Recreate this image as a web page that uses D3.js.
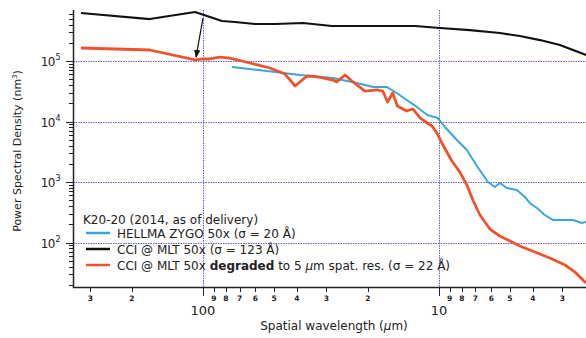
<!DOCTYPE html>
<html><head><meta charset="utf-8">
<script src="https://cdn.jsdelivr.net/npm/d3@7"></script>
<style>
body{margin:0;background:#fff}
svg{display:block}
text{font-family:"DejaVu Sans",Verdana,sans-serif;fill:#222}
</style>
</head><body>
<svg id="chart" width="586" height="338"></svg>
<script>
// ---- data (spatial wavelength in µm, PSD in nm^3) ----
const blackWl  = [329, 168, 108, 83.1, 73.2, 60.2, 49.5, 37.7, 28.4, 16.1, 12.6, 9.9, 7.39, 5.52, 4.54, 3.73, 3.07, 2.38];
const blackPsd = [621000, 494000, 645000, 458000, 441000, 409000, 409000, 425000, 379000, 379000, 379000, 351000, 325000, 290000, 259000, 222000, 184000, 126000];

const blueWl  = [75.4, 53.6, 38.8, 28.1, 22.3, 19.0, 16.6, 15.1, 13.7, 12.4, 11.2, 10.1, 9.43, 8.39, 7.61, 6.90, 6.20, 5.79, 5.52, 5.15, 4.67, 4.32, 4.12, 3.84, 3.56, 3.29, 2.98, 2.70, 2.48, 2.38];
const bluePsd = [79600, 68400, 58700, 52400, 43300, 37200, 37200, 29600, 22700, 17400, 12800, 11400, 8110, 4950, 3380, 1840, 1000, 826, 962, 796, 738, 565, 450, 372, 285, 236, 236, 236, 210, 218];

const redWl  = [329, 168, 108, 100, 93.4, 84.7, 76.9, 63.2, 52.0, 44.9, 40.7, 36.2, 32.6, 28.1, 27.1, 25.0, 23.1, 20.6, 18.3, 17.3, 16.5, 15.7, 15.0, 13.7, 12.9, 12.0, 11.2, 10.7, 10.2, 9.71, 9.25, 8.81, 8.15, 7.61, 7.18, 6.70, 6.08, 5.52, 5.00, 4.54, 3.92, 3.39, 2.92, 2.65, 2.38];
const redPsd = [164000, 152000, 104000, 108000, 108000, 116000, 112000, 92700, 76600, 60900, 38600, 56500, 54500, 48500, 45000, 58700, 45000, 31900, 33200, 31900, 21000, 29600, 18000, 14900, 16100, 11400, 9450, 8430, 6460, 4410, 3130, 2220, 1460, 891, 504, 285, 167, 128, 106, 87.5, 69.7, 55.5, 42.5, 32.5, 21.4];

const legendTitle = "K20-20 (2014, as of delivery)";
const seriesNames = ["HELLMA ZYGO 50x (σ = 20 Å)", "CCI @ MLT 50x (σ = 123 Å)", "CCI @ MLT 50x degraded to 5 μm spat. res. (σ = 22 Å)"];
const seriesColors = ["#3aa6df", "#111111", "#f0522b"];

const yMajorTicks = [1e2, 1e3, 1e4, 1e5];
const yExponents  = ["2", "3", "4", "5"];
const xMajorTicks = [100, 10];
const xMajorLabels = ["100", "10"];
const xMinorTicks = [300, 200, 90, 80, 70, 60, 50, 40, 30, 20, 9, 8, 7, 6, 5, 4, 3];
const xMinorLabels = ["3", "2", "9", "8", "7", "6", "5", "4", "3", "2", "9", "8", "7", "6", "5", "4", "3"];
const arrowFrom = [100, 513000];
const arrowTo   = [107, 116000];

// ---- layout ----
const svg = d3.select("#chart");
const L = 73, R = 586, T = 10, B = 287;
const x = d3.scaleLog().domain([355.5, 2.38]).range([L, R]);
const y = d3.scaleLog().domain([Math.pow(10, 1.2645), Math.pow(10, 5.843)]).range([B, T]);

// grid
const grid = svg.append("g").style("stroke", "#5f5ff0").style("stroke-width", "1px").style("stroke-dasharray", "1.5,1");
yMajorTicks.forEach(v => grid.append("line").attr("x1", L).attr("x2", R).attr("y1", Math.round(y(v)) + 0.5).attr("y2", Math.round(y(v)) + 0.5));
xMajorTicks.forEach(v => grid.append("line").attr("x1", Math.round(x(v)) + 0.5).attr("x2", Math.round(x(v)) + 0.5).attr("y1", T).attr("y2", B));

// y minor ticks
const yMinor = [];
for (let e = 1; e <= 5; e++) for (let m = 1; m <= 9; m++) { const v = m * Math.pow(10, e); if (v >= y.domain()[0] && v <= y.domain()[1]) yMinor.push(v); }
const yAx = svg.append("g").attr("stroke", "#222").attr("stroke-width", 1);
yMinor.forEach(v => {
  const major = yMajorTicks.includes(v);
  yAx.append("line").attr("x1", L - (major ? 7 : 4)).attr("x2", L).attr("y1", Math.round(y(v)) + 0.5).attr("y2", Math.round(y(v)) + 0.5);
});
yAx.append("line").attr("x1", L + 0.5).attr("x2", L + 0.5).attr("y1", T).attr("y2", B + 1).attr("stroke-width", 1.5);

// y labels
yMajorTicks.forEach((v, i) => {
  svg.append("text").attr("x", 55).attr("y", y(v) + 5).attr("text-anchor", "end").attr("font-size", 12).attr("letter-spacing", "-0.5").text("10");
  svg.append("text").attr("x", 55.5).attr("y", y(v) - 1).attr("font-size", 8).text(yExponents[i]);
});

// x axis
const xAx = svg.append("g").attr("stroke", "#222").attr("stroke-width", 1);
xAx.append("line").attr("x1", L).attr("x2", R).attr("y1", B + 0.5).attr("y2", B + 0.5).attr("stroke-width", 1.5);
xMajorTicks.forEach(v => xAx.append("line").attr("x1", Math.round(x(v)) + 0.5).attr("x2", Math.round(x(v)) + 0.5).attr("y1", B).attr("y2", B + 9));
xMinorTicks.forEach(v => xAx.append("line").attr("x1", Math.round(x(v)) + 0.5).attr("x2", Math.round(x(v)) + 0.5).attr("y1", B).attr("y2", B + 5));
xMinorTicks.forEach((v, i) => svg.append("text").attr("x", x(v)).attr("y", 301).attr("text-anchor", "middle").attr("font-size", 7.5).attr("font-weight", "bold").text(xMinorLabels[i]));
xMajorTicks.forEach((v, i) => svg.append("text").attr("x", x(v)).attr("y", 315).attr("text-anchor", "middle").attr("font-size", 13).text(xMajorLabels[i]));

// axis titles
svg.append("text").attr("x", 334).attr("y", 330).attr("text-anchor", "middle").attr("font-size", 12).html("Spatial wavelength (<tspan font-style='italic'>μ</tspan>m)");
svg.append("text").attr("transform", "translate(21,151) rotate(-90)").attr("text-anchor", "middle").attr("font-size", 11)
  .html("Power Spectral Density (nm<tspan font-size='7' dy='-4'>3</tspan><tspan dy='4'>)</tspan>");

// lines
const line = d3.line().x(d => x(d[0])).y(d => y(d[1]));
const series = [
  {wl: blueWl, psd: bluePsd, c: seriesColors[0], w: 2},
  {wl: blackWl, psd: blackPsd, c: seriesColors[1], w: 2.2},
  {wl: redWl, psd: redPsd, c: seriesColors[2], w: 2.8}
];
series.forEach(s => {
  svg.append("path").datum(s.wl.map((w, i) => [w, s.psd[i]]))
    .attr("d", line).attr("fill", "none").attr("stroke", s.c).attr("stroke-width", s.w).attr("stroke-linejoin", "round");
});

// arrow
svg.append("defs").append("marker").attr("id", "ah").attr("viewBox", "0 0 10 10").attr("refX", 9).attr("refY", 5)
  .attr("markerWidth", 8).attr("markerHeight", 8).attr("markerUnits", "userSpaceOnUse").attr("orient", "auto")
  .append("path").attr("d", "M0,1 L10,5 L0,9 Z").attr("fill", "#111");
svg.append("line").attr("x1", x(arrowFrom[0])).attr("y1", y(arrowFrom[1])).attr("x2", x(arrowTo[0])).attr("y2", y(arrowTo[1]))
  .attr("stroke", "#111").attr("stroke-width", 1.2).attr("marker-end", "url(#ah)");

// legend
svg.append("text").attr("x", 83).attr("y", 224).attr("font-size", 12).text(legendTitle);
const legY = [233, 249, 265];
seriesNames.forEach((n, i) => {
  svg.append("line").attr("x1", 86).attr("x2", 110).attr("y1", legY[i]).attr("y2", legY[i]).attr("stroke", seriesColors[i]).attr("stroke-width", 2.5);
});
svg.append("text").attr("x", 117).attr("y", legY[0] + 4.5).attr("font-size", 12).text(seriesNames[0]);
svg.append("text").attr("x", 117).attr("y", legY[1] + 4.5).attr("font-size", 12).text(seriesNames[1]);
svg.append("text").attr("x", 117).attr("y", legY[2] + 4.5).attr("font-size", 12)
  .html("CCI @ MLT 50x <tspan font-weight='bold'>degraded</tspan> to 5 <tspan font-style='italic'>μ</tspan>m spat. res. (σ = 22 Å)");
</script>
</body></html>
